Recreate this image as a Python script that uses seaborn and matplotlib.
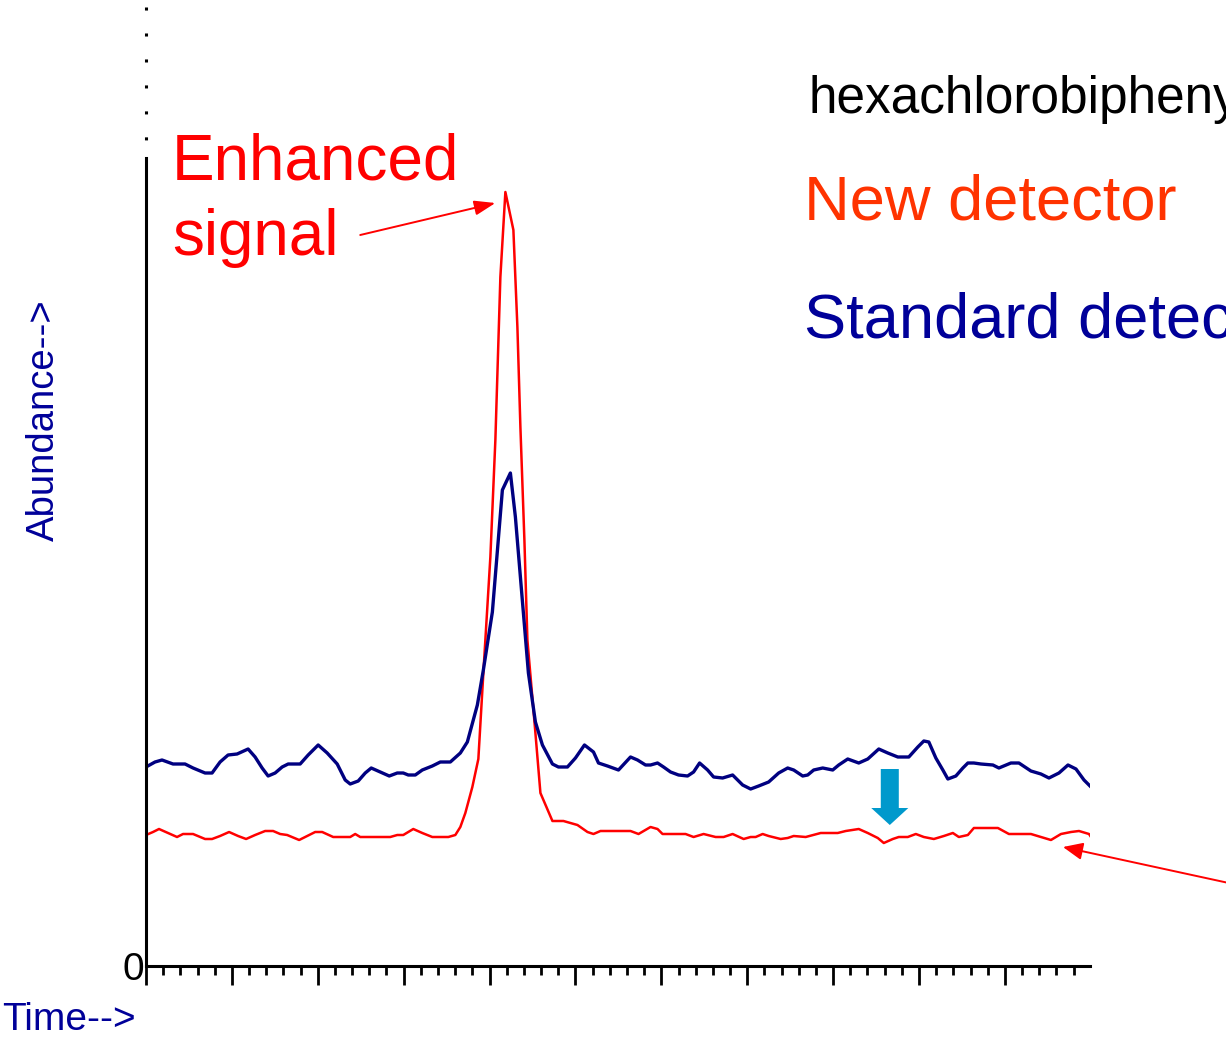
import matplotlib
matplotlib.use("Agg")
import matplotlib.pyplot as plt
from matplotlib.ticker import MultipleLocator, FixedLocator
from matplotlib.patches import FancyArrow
import seaborn as sns
import pandas as pd

# ---- data (arbitrary units) ----
std_time = [0, 9, 16, 27, 39, 47, 59, 66, 74, 82, 91, 102, 109, 116, 122, 129, 136, 142, 154, 162,
            172, 181, 191, 199, 204, 212, 219, 225, 234, 243, 251, 257, 262, 269, 276, 286, 294, 304,
            314, 321, 331, 337, 346, 356, 364, 369, 382, 389, 396, 406, 412, 421, 429, 438, 447, 452,
            461, 472, 484, 491, 499, 504, 511, 517, 524, 532, 541, 547, 553, 561, 567, 576, 586, 596,
            604, 612, 622, 632, 641, 647, 656, 661, 667, 676, 686, 692, 701, 712, 721, 732, 741, 751,
            762, 771, 777, 782, 789, 796, 801, 809, 816, 821, 827, 834, 846, 852, 864, 872, 884, 894,
            902, 912, 921, 929, 937, 945]
std_abund = [199, 204, 206, 202, 202, 198, 193, 193, 204, 211, 212, 217, 209, 198, 190, 193, 199, 202, 202, 211,
             221, 213, 202, 186, 182, 185, 193, 198, 194, 190, 193, 193, 191, 191, 196, 200, 204, 204,
             213, 224, 261, 296, 354, 476, 493, 449, 293, 244, 221, 202, 199, 199, 208, 221, 214, 203,
             200, 196, 209, 206, 201, 201, 203, 199, 194, 191, 190, 194, 203, 196, 189, 188, 191, 181,
             177, 180, 184, 193, 198, 196, 190, 191, 196, 198, 196, 201, 207, 203, 207, 217, 213, 209,
             209, 219, 225, 224, 208, 196, 187, 190, 198, 203, 203, 202, 201, 198, 203, 203, 195, 192,
             188, 193, 201, 197, 186, 178]

new_time = [0, 7, 13, 22, 31, 37, 47, 59, 66, 74, 83, 92, 100, 109, 119, 127, 134, 141, 153, 161,
            169, 176, 187, 204, 209, 214, 244, 251, 257, 267, 276, 286, 302, 309, 314, 319, 326, 332,
            337, 344, 349, 354, 359, 367, 371, 374, 378, 381, 389, 394, 406, 417, 431, 441, 447, 454,
            484, 492, 504, 511, 516, 539, 547, 557, 569, 577, 586, 597, 604, 609, 616, 622, 634, 641,
            647, 659, 674, 691, 699, 712, 721, 731, 737, 746, 752, 761, 769, 777, 787, 797, 806, 812,
            821, 827, 851, 862, 884, 894, 904, 914, 924, 932, 942, 946]
new_abund = [131, 134, 137, 133, 129, 132, 132, 127, 127, 130, 134, 130, 127, 131, 135, 135, 132, 131, 126, 130,
             134, 134, 129, 129, 132, 129, 129, 131, 131, 137, 133, 129, 129, 131, 139, 153, 179, 207,
             293, 409, 526, 689, 774, 736, 639, 539, 426, 326, 233, 173, 145, 145, 141, 134, 132, 135,
             135, 132, 139, 137, 132, 132, 129, 132, 129, 129, 132, 127, 129, 129, 132, 130, 127, 128,
             130, 129, 133, 133, 135, 137, 133, 128, 123, 127, 129, 129, 132, 129, 127, 130, 133, 129,
             131, 138, 138, 132, 132, 129, 126, 132, 134, 135, 132, 126]

title_text = "hexachlorobiphenyl"
new_label = "New detector"
std_label = "Standard detector"
callout = ["Enhanced", "signal"]

# ---- figure ----
sns.set_theme(style="white")
plt.rcParams["font.family"] = ["Liberation Sans", "DejaVu Sans"]

W, H = 1226, 1038
fig = plt.figure(figsize=(W / 100, H / 100), dpi=100)
ax = fig.add_axes([146 / W, 72 / H, 944 / W, 962 / H])
ax.set_facecolor("white")

std_df = pd.DataFrame({"time": std_time, "abundance": std_abund})
new_df = pd.DataFrame({"time": new_time, "abundance": new_abund})
sns.lineplot(data=new_df, x="time", y="abundance", color="#FF0000", lw=1.8,
             ax=ax, estimator=None, sort=False)
sns.lineplot(data=std_df, x="time", y="abundance", color="#000080", lw=2.4,
             ax=ax, estimator=None, sort=False)

ax.set_xlim(0, 943)
ax.set_ylim(0, 962)

# spines
for s in ["top", "right"]:
    ax.spines[s].set_visible(False)
for s in ["left", "bottom"]:
    ax.spines[s].set_color("black")
    ax.spines[s].set_linewidth(2.2)
ax.spines["left"].set_bounds(0, 808)
# dotted continuation of the y axis
ax.plot([0, 0], [959.5, 826], color="black", lw=2.2, ls=(0, (1, 7.5)),
        dash_capstyle="butt", clip_on=False)

# ticks
ax.xaxis.set_major_locator(MultipleLocator(85.8))
ax.xaxis.set_minor_locator(MultipleLocator(17.16))
ax.tick_params(axis="x", which="major", direction="out", length=14, width=2,
               color="black", labelbottom=False, bottom=True)
ax.tick_params(axis="x", which="minor", direction="out", length=6.5, width=2,
               color="black", bottom=True)
ax.yaxis.set_major_locator(FixedLocator([0]))
ax.set_yticklabels(["0"])
ax.tick_params(axis="y", which="both", length=0, pad=1, labelsize=28, labelcolor="black")

# axis labels
ax.set_xlabel("")
ax.set_ylabel("")
fig.text(2 / W, 1 - 1030 / H, "Time-->", color="#000099", fontsize=28,
         ha="left", va="baseline")
fig.text(44 / W, 1 - 420 / H, "Abundance-->", color="#000099", fontsize=27.5,
         rotation=90, ha="center", va="center", rotation_mode="anchor")

# annotation texts
fig.text(808 / W, 1 - 113 / H, title_text, color="black", fontsize=37,
         ha="left", va="baseline")
fig.text(804 / W, 1 - 220 / H, new_label, color="#FF3300", fontsize=45.5,
         ha="left", va="baseline")
fig.text(804 / W, 1 - 337 / H, std_label, color="#000099", fontsize=45.5,
         ha="left", va="baseline")
fig.text(172 / W, 1 - 180 / H, callout[0], color="#FF0000", fontsize=46,
         ha="left", va="baseline")
fig.text(172 / W, 1 - 255 / H, callout[1], color="#FF0000", fontsize=46,
         ha="left", va="baseline")

# arrows
ax.annotate("", xy=(349, 763), xytext=(214, 731),
            arrowprops=dict(arrowstyle="-|>,head_length=0.85,head_width=0.3",
                            color="#FF0000", lw=1.4, shrinkA=0, shrinkB=0,
                            mutation_scale=15),
            annotation_clip=False)
ax.annotate("", xy=(916, 119), xytext=(1100, 79),
            arrowprops=dict(arrowstyle="-|>,head_length=0.8,head_width=0.35",
                            color="#FF0000", lw=1.4, shrinkA=0, shrinkB=0,
                            mutation_scale=15),
            annotation_clip=False)
ax.add_patch(FancyArrow(743, 197, 0, -56, width=18, head_width=37, head_length=17,
                        length_includes_head=True, color="#0099CC", lw=0))

fig.savefig("out.png", dpi=100, facecolor="white")
